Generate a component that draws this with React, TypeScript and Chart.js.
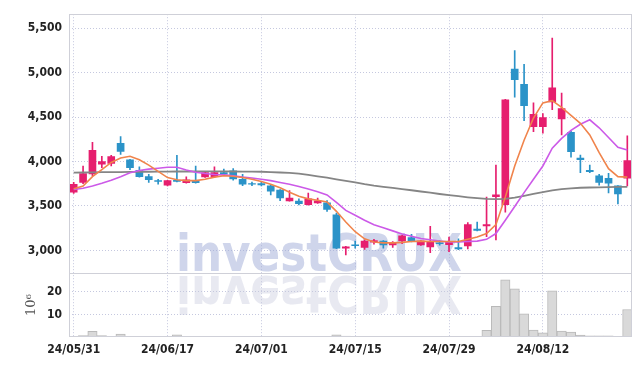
import React, { useEffect, useRef } from 'react';
import { Chart, registerables } from 'chart.js';
Chart.register(...registerables);

const DATES = [
  '24/05/31','24/06/03','24/06/04','24/06/05','24/06/07','24/06/10','24/06/11','24/06/12','24/06/13','24/06/14',
  '24/06/17','24/06/18','24/06/19','24/06/20','24/06/21','24/06/24','24/06/25','24/06/26','24/06/27','24/06/28',
  '24/07/01','24/07/02','24/07/03','24/07/04','24/07/05','24/07/08','24/07/09','24/07/10','24/07/11','24/07/12',
  '24/07/15','24/07/16','24/07/17','24/07/18','24/07/19','24/07/22','24/07/23','24/07/24','24/07/25','24/07/26',
  '24/07/29','24/07/30','24/07/31','24/08/01','24/08/02','24/08/05','24/08/06','24/08/07','24/08/08','24/08/09',
  '24/08/12','24/08/13','24/08/14','24/08/16','24/08/19','24/08/20','24/08/21','24/08/22','24/08/23','24/08/26',
];
const SHOWN_DATES = ['24/05/31','24/06/17','24/07/01','24/07/15','24/07/29','24/08/12'];
const PRICE_TICKS = [3000, 3500, 4000, 4500, 5000, 5500];
const VOLUME_TICKS = [10, 20];

const OPEN = [
  3655,3765,3860,3970,3980,4205,4020,3900,3830,3785,
  3735,3790,3762,3785,3828,3830,3875,3895,3800,3752,
  3752,3728,3680,3558,3555,3515,3535,3535,3400,3025,
  3062,3035,3092,3105,3063,3108,3145,3063,3040,3085,
  3065,3032,3052,3240,3275,3605,3515,5040,4870,4392,
  4392,4670,4480,4330,4040,3900,3838,3812,3727,3812,
];
const HIGH = [
  3765,3950,4215,4060,4070,4280,4025,3940,3855,3800,
  3790,4070,3828,3950,3880,3940,3915,3920,3855,3770,
  3765,3740,3685,3672,3580,3645,3590,3560,3420,3045,
  3105,3120,3125,3110,3100,3170,3180,3110,3270,3110,
  3150,3130,3313,3320,3600,3960,4700,5250,5095,4660,
  4540,5390,4770,4340,4072,3960,3856,3867,3730,4288,
];
const LOW = [
  3640,3750,3840,3930,3950,4080,3910,3825,3765,3745,
  3725,3770,3758,3758,3820,3825,3842,3790,3728,3728,
  3725,3625,3560,3555,3512,3510,3530,3440,3020,2950,
  3025,3010,3070,3025,3035,3075,3095,3055,2975,3060,
  2985,3008,3018,3218,3155,3118,3430,4725,4460,4335,
  4318,4585,4300,4050,3875,3875,3735,3646,3524,3727,
];
const CLOSE = [
  3745,3865,4125,4000,4055,4115,3930,3830,3795,3775,
  3785,3775,3795,3762,3875,3875,3858,3805,3745,3745,
  3738,3668,3590,3588,3525,3580,3557,3462,3025,3040,
  3053,3105,3110,3063,3092,3165,3100,3105,3100,3075,
  3100,3018,3290,3225,3290,3625,4695,4920,4630,4530,
  4495,4830,4595,4110,4020,3885,3765,3757,3635,4010,
];
const MA5 = [
  3695,3725,3830,3910,3990,4040,4060,4020,3960,3890,
  3820,3795,3785,3785,3800,3825,3840,3835,3820,3800,
  3775,3745,3705,3655,3610,3580,3565,3545,3440,3320,
  3210,3130,3095,3085,3085,3090,3100,3105,3100,3100,
  3100,3100,3125,3150,3190,3290,3600,3950,4240,4490,
  4660,4685,4610,4520,4430,4300,4100,3920,3830,3825,
];
const MA20 = [
  3685,3700,3725,3755,3790,3830,3875,3900,3915,3925,
  3935,3935,3905,3880,3865,3855,3850,3840,3825,3815,
  3800,3785,3765,3745,3720,3690,3660,3625,3540,3450,
  3395,3340,3290,3255,3220,3185,3160,3135,3120,3105,
  3095,3095,3100,3105,3125,3190,3340,3495,3650,3800,
  3950,4150,4260,4350,4420,4470,4380,4270,4160,4130,
];
const MA60 = [
  3875,3877,3878,3880,3880,3882,3883,3884,3885,3886,
  3887,3888,3888,3888,3889,3889,3889,3888,3887,3886,
  3885,3882,3877,3872,3865,3850,3833,3818,3800,3783,
  3765,3745,3728,3715,3703,3690,3677,3663,3650,3635,
  3622,3610,3598,3588,3580,3578,3580,3595,3615,3635,
  3655,3675,3690,3698,3705,3708,3710,3712,3714,3716,
];
const VOLUME = [
  0.1,0.6,2.5,0.6,0.2,1.3,0.3,0.1,0.1,0.1,
  0.2,1.0,0.2,0.2,0.2,0.2,0.1,0.2,0.2,0.1,
  0.1,0.2,0.2,0.1,0.1,0.2,0.1,0.2,1.0,0.4,
  0.3,0.1,0.1,0.1,0.1,0.1,0.1,0.1,0.3,0.1,
  0.1,0.1,0.3,0.1,3.0,13.6,25.4,21.4,10.3,3.1,
  1.9,20.5,2.6,2.2,0.9,0.5,0.5,0.5,0.2,12.2,
];

const WATERMARK = 'investCRUX';
const UP = '#e61e6e';
const DOWN = '#2b93c8';
const GRID = '#c5c8df';
const FRAME = '#cfd0d8';
const TICK_FONT = { family: "'DejaVu Sans Condensed', 'DejaVu Sans', sans-serif", size: 12, weight: 'bold' as const };

const framePlugin = {
  id: 'frame',
  beforeDatasetsDraw(chart: any) {
    const { ctx } = chart;
    const yv = chart.scales.yv;
    const sep = yv.top;
    ctx.save();
    ctx.font = "bold 51px 'DejaVu Sans Condensed', 'DejaVu Sans', sans-serif";
    const w = ctx.measureText(WATERMARK).width;
    const sx = 286 / w;
    ctx.textBaseline = 'alphabetic';
    ctx.save();
    ctx.translate(176, sep - 2);
    ctx.scale(sx, 1);
    ctx.fillStyle = 'rgba(160,172,215,0.5)';
    ctx.fillText(WATERMARK, 0, 0);
    ctx.restore();
    ctx.save();
    ctx.translate(176, sep + 3);
    ctx.scale(sx, -1);
    ctx.fillStyle = 'rgba(200,202,222,0.42)';
    ctx.fillText(WATERMARK, 0, 0);
    ctx.restore();
    ctx.restore();
  },
  afterDraw(chart: any) {
    const { ctx, chartArea } = chart;
    const { left, right, top, bottom } = chartArea;
    const sep = chart.scales.yv.top;
    ctx.save();
    ctx.strokeStyle = FRAME;
    ctx.lineWidth = 1;
    ctx.strokeRect(Math.round(left) + 0.5, Math.round(top) + 0.5, Math.round(right - left) - 1, Math.round(bottom - top) - 1);
    ctx.beginPath();
    ctx.moveTo(left, Math.round(sep) + 0.5);
    ctx.lineTo(right, Math.round(sep) + 0.5);
    ctx.stroke();
    ctx.restore();
  },
};

export default function App() {
  const ref = useRef<HTMLCanvasElement>(null);
  useEffect(() => {
    document.body.style.margin = '0';
    const up = CLOSE.map((c, i) => c >= OPEN[i]);
    const chart = new Chart(ref.current!, {
      type: 'bar',
      data: {
        labels: DATES,
        datasets: [
          { type: 'line', data: MA5, borderColor: '#f0844c', borderWidth: 1.6, pointRadius: 0, yAxisID: 'y', order: 0 } as any,
          { type: 'line', data: MA20, borderColor: '#cc5ae8', borderWidth: 1.6, pointRadius: 0, yAxisID: 'y', order: 0 } as any,
          { type: 'line', data: MA60, borderColor: '#858585', borderWidth: 1.8, pointRadius: 0, yAxisID: 'y', order: 0 } as any,
          {
            type: 'bar', data: OPEN.map((o, i) => [o, CLOSE[i]]), yAxisID: 'y', grouped: false, order: 1,
            barThickness: 7, backgroundColor: up.map((u) => (u ? UP : DOWN)), borderWidth: 0,
          } as any,
          {
            type: 'bar', data: LOW.map((l, i) => [l, HIGH[i]]), yAxisID: 'y', grouped: false, order: 2,
            barThickness: 1, backgroundColor: up.map((u) => (u ? UP : DOWN)), borderWidth: 0,
          } as any,
          {
            type: 'bar', data: VOLUME, yAxisID: 'yv', grouped: false, order: 3,
            barPercentage: 1, categoryPercentage: 1, backgroundColor: '#d9d9d9', borderColor: '#b9b9b9', borderWidth: 1,
          } as any,
        ],
      },
      options: {
        animation: false,
        responsive: false,
        maintainAspectRatio: false,
        layout: { padding: { left: 0, right: 10, top: 9, bottom: 0 } },
        plugins: { legend: { display: false }, tooltip: { enabled: false } },
        scales: {
          x: {
            type: 'category',
            offset: true,
            grid: {
              offset: false, drawTicks: false,
              color: (c: any) => (SHOWN_DATES.includes(DATES[c.index]) ? GRID : 'rgba(0,0,0,0)'),
            },
            border: { display: false, dash: [1, 2] },
            ticks: {
              autoSkip: false, maxRotation: 0, minRotation: 0, padding: 6, color: '#222', font: TICK_FONT,
              callback: (_v: any, i: number) => (SHOWN_DATES.includes(DATES[i]) ? DATES[i] : ''),
            },
            afterFit: (s: any) => { s.height = 29; },
          },
          yv: {
            type: 'linear', position: 'left', stack: 'p', stackWeight: 1, min: 0, max: 28.4,
            grid: { color: GRID, drawTicks: false },
            border: { display: false, dash: [1, 2] },
            afterBuildTicks: (s: any) => { s.ticks = VOLUME_TICKS.map((v) => ({ value: v })); },
            ticks: { padding: 7, color: '#222', font: TICK_FONT },
            title: { display: true, text: '10⁶', color: '#555', font: { family: "'DejaVu Serif', serif", size: 13 }, padding: { top: 24, bottom: 0 } },
            afterFit: (s: any) => { s.width = 69; },
          },
          y: {
            type: 'linear', position: 'left', stack: 'p', stackWeight: 4.05, min: 2745, max: 5658,
            grid: { color: GRID, drawTicks: false },
            border: { display: false, dash: [1, 2] },
            afterBuildTicks: (s: any) => { s.ticks = PRICE_TICKS.map((v) => ({ value: v })); },
            ticks: { padding: 7, color: '#222', font: TICK_FONT, callback: (v: any) => Number(v).toLocaleString('en-US') },
            afterFit: (s: any) => { s.width = 69; },
          },
        },
      } as any,
      plugins: [framePlugin],
    });
    return () => chart.destroy();
  }, []);
  return (
    <div style={{ position: 'fixed', left: 0, top: 0, width: 642, height: 366, background: '#fff' }}>
      <canvas ref={ref} width={642} height={366} style={{ display: 'block' }} />
    </div>
  );
}
